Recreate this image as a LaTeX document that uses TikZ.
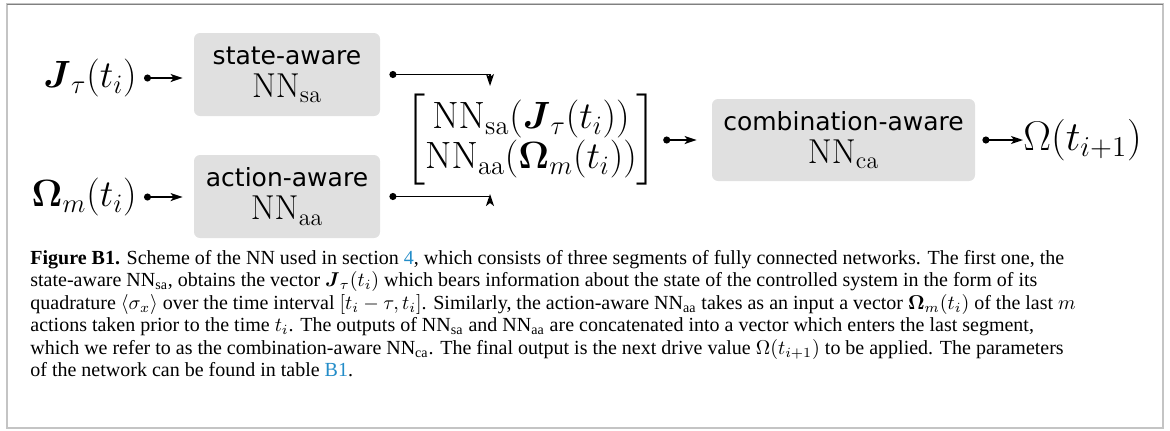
\RequirePackage{fix-cm}
\documentclass[tikz,border=0pt]{standalone}
\usepackage{amsmath,amssymb}
\usepackage[no-math]{fontspec}
\newfontfamily\labelfont{DejaVu Sans}
\newfontfamily\capfont{Liberation Serif}
\usepackage{tikz}
\usetikzlibrary{calc,arrows.meta,positioning}
\definecolor{boxgray}{RGB}{224,224,224}
\definecolor{linkblue}{RGB}{35,140,200}
\definecolor{framegray}{RGB}{196,196,196}

\begin{document}
\begin{tikzpicture}[x=0.5pt, y=-0.5pt,
 nnbox/.style={fill=boxgray, rounded corners=3pt, align=center, inner sep=0pt,
   font=\labelfont\fontsize{12.5}{16.5}\selectfont, minimum height=41.5pt},
 mathlbl/.style={font=\fontsize{19}{22}\selectfont, inner sep=3.5pt},
 link/.style={line width=0.8pt, {Circle[length=3.5pt]}-{Stealth[length=6pt,width=4pt,inset=1.5pt]}}]
 % Frame
 \useasboundingbox (0,0) rectangle (1170,430);
 \draw[framegray, line width=1pt] (7,4) rectangle (1163,428);
 \draw[gray, line width=0.5pt] (7,4) -- (1163,4);

 % Inputs
 \node[mathlbl, anchor=east] (jin) at (144,78) {$\boldsymbol{J}_\tau(t_i)$};
 \node[mathlbl, anchor=east] (omin) at (144,197) {$\boldsymbol{\Omega}_m(t_i)$};

 % State- and action-aware segments
 \node[nnbox, minimum width=93pt] (sa) at (287,74.5) {state-aware\\{\LARGE$\mathrm{NN}_{\mathrm{sa}}$}};
 \node[nnbox, minimum width=93pt] (aa) at (287,196.5) {action-aware\\{\LARGE$\mathrm{NN}_{\mathrm{aa}}$}};

 % Concatenated vector
 \node[font={\fontsize{19}{19}\selectfont\delimitershortfall=12pt}, inner sep=0pt] (cat) at (531,140)
   {$\begin{bmatrix}\mathrm{NN}_{\mathrm{sa}}(\boldsymbol{J}_\tau(t_i))\\ \mathrm{NN}_{\mathrm{aa}}(\boldsymbol{\Omega}_m(t_i))\end{bmatrix}$};

 % Combination-aware segment and output
 \node[nnbox, minimum width=131.5pt, minimum height=41pt] (ca) at (843.5,140) {combination-aware\\{\LARGE$\mathrm{NN}_{\mathrm{ca}}$}};
 \node[font=\huge, inner sep=0pt, anchor=west] (out) at (1023,140) {$\Omega(t_{i+1})$};

 % Connectors
 \coordinate (catin) at ($(cat.north)+(-41,0)$);
 \coordinate (catbot) at ($(cat.south)+(-41,0)$);
 \draw[link, shorten >=5.5pt] (jin.east) -- (jin.east -| sa.west);
 \draw[link, shorten >=5.5pt] (omin.east) -- (omin.east -| aa.west);
 \draw[link, shorten <=4.5pt, shorten >=4pt] (sa.east) -| (catin);
 \draw[link, shorten <=4.5pt, shorten >=4pt] (aa.east) -| (catbot);
 \draw[link, shorten <=3pt, shorten >=7.5pt] (cat.east) -- (ca.west);
 \draw[link, shorten <=3.5pt] (ca.east) -- (ca.east -| out.west);

 % Caption
 \node[anchor=north west, align=left, inner sep=0pt,
   font=\capfont\fontsize{10}{11.2}\selectfont] (caption) at (30,250)
 {\textbf{Figure B1.} Scheme of the NN used in section \textcolor{linkblue}{4}, which consists of three segments of fully connected networks. The first one, the\\
 state-aware NN\textsubscript{sa}, obtains the vector $\boldsymbol{J}_\tau(t_i)$ which bears information about the state of the controlled system in the form of its\\
 quadrature $\langle\sigma_x\rangle$ over the time interval $[t_i-\tau,t_i]$. Similarly, the action-aware NN\textsubscript{aa} takes as an input a vector $\boldsymbol{\Omega}_m(t_i)$ of the last $m$\\
 actions taken prior to the time $t_i$. The outputs of NN\textsubscript{sa} and NN\textsubscript{aa} are concatenated into a vector which enters the last segment,\\
 which we refer to as the combination-aware NN\textsubscript{ca}. The final output is the next drive value $\Omega(t_{i+1})$ to be applied. The parameters\\
 of the network can be found in table \textcolor{linkblue}{B1}.};
\end{tikzpicture}
\end{document}
